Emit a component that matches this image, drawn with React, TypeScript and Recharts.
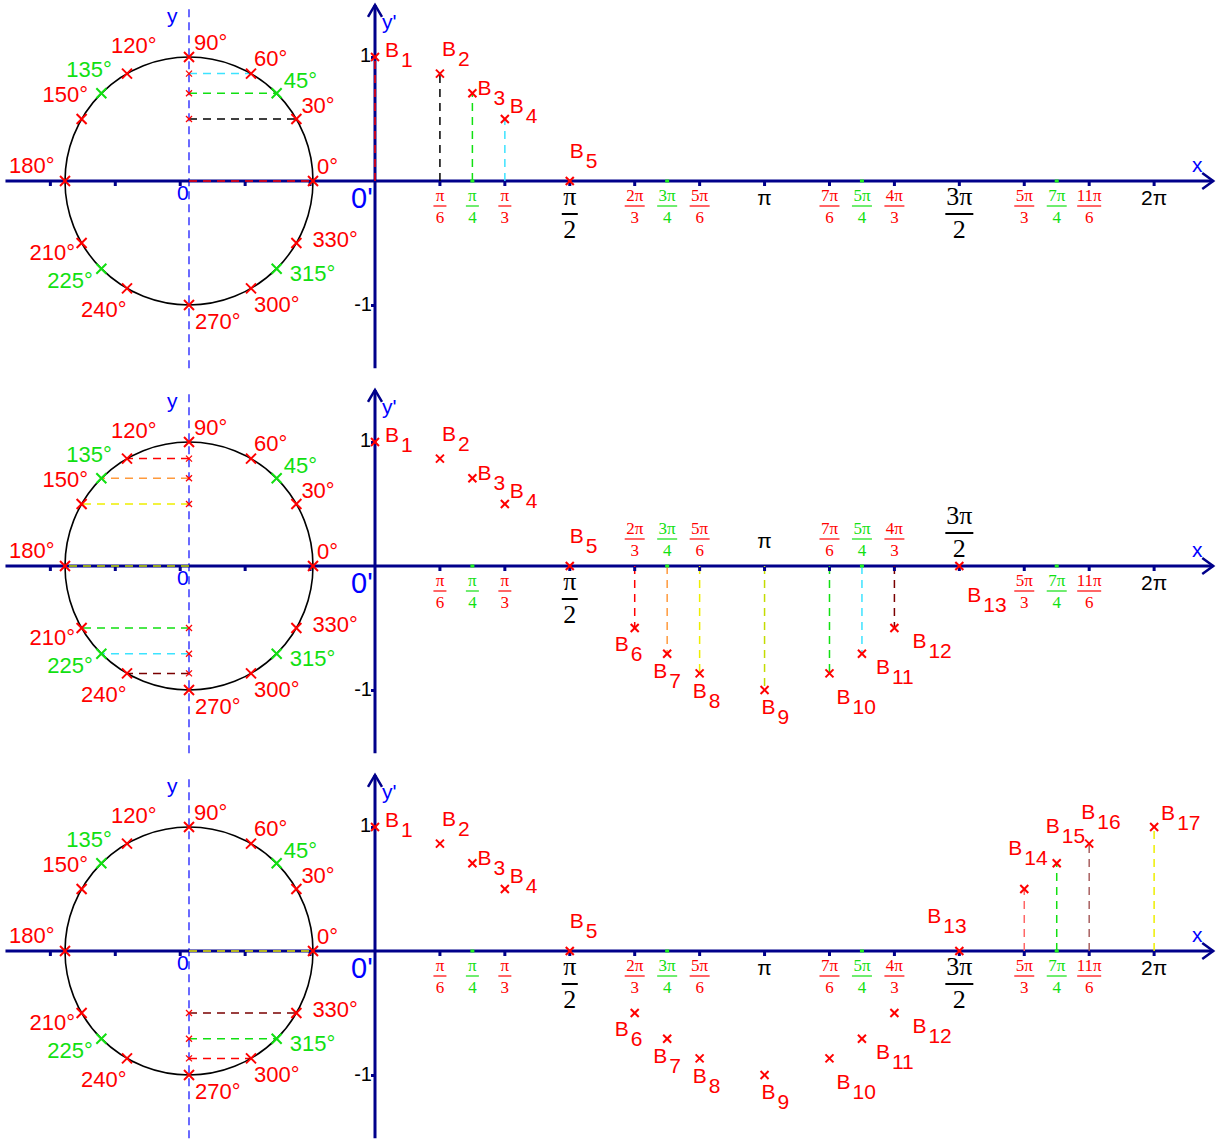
import React from 'react'
import { ComposedChart, XAxis, YAxis, Scatter, ReferenceLine, ReferenceDot } from 'recharts'

const PI = Math.PI

// unit circle marks
const DEGREES = [0, 30, 45, 60, 90, 120, 135, 150, 180, 210, 225, 240, 270, 300, 315, 330]
const CIRCLE_COS = [1, 0.866, 0.707, 0.5, 0, -0.5, -0.707, -0.866, -1, -0.866, -0.707, -0.5, 0, 0.5, 0.707, 0.866]
const CIRCLE_SIN = [0, 0.5, 0.707, 0.866, 1, 0.866, 0.707, 0.5, 0, -0.5, -0.707, -0.866, -1, -0.866, -0.707, -0.5]

// graph points B1..B17 (x in multiples of π)
const B_X = [0, 1 / 6, 1 / 4, 1 / 3, 1 / 2, 2 / 3, 3 / 4, 5 / 6, 1, 7 / 6, 5 / 4, 4 / 3, 3 / 2, 5 / 3, 7 / 4, 11 / 6, 2]
const B_Y = [1, 0.866, 0.707, 0.5, 0, -0.5, -0.707, -0.866, -1, -0.866, -0.707, -0.5, 0, 0.5, 0.707, 0.866, 1]

// x axis ticks (multiples of π)
const TICK_X = [1 / 6, 1 / 4, 1 / 3, 1 / 2, 2 / 3, 3 / 4, 5 / 6, 1, 7 / 6, 5 / 4, 4 / 3, 3 / 2, 5 / 3, 7 / 4, 11 / 6, 2]
const TICK_NUM = ['π', 'π', 'π', 'π', '2π', '3π', '5π', 'π', '7π', '5π', '4π', '3π', '5π', '7π', '11π', '2π']
const TICK_DEN = ['6', '4', '3', '2', '3', '4', '6', '', '6', '4', '3', '2', '3', '4', '6', '']
const NEG_TICK_X = [-1 / 6, -1 / 3, -1 / 2, -2 / 3, -5 / 6]

// layout
const W = 1217
const H = 385
const UNIT = 124
const X_DOMAIN = [-375 / UNIT, (W - 375) / UNIT]
const Y_DOMAIN = [-(H - 181) / UNIT, 181 / UNIT]
const CX = -1.5
const AX_LEFT = -2.98
const AX_RIGHT = 6.76
const AX_TOP = 1.42
const AX_BOTTOM = -1.51

const AXIS = '#00008b'
const BLUE = '#0000ff'
const RED = '#ff0000'
const GREEN = '#11e011'
const BLACK = '#000000'
const CYAN = '#3de3ff'
const ORANGE = '#ff9a3c'
const YELLOW = '#eeee00'
const YGREEN = '#c4dc00'
const DARKRED = '#7a0000'
const BROWN = '#a86060'
const PINK = '#ff6666'

const DEG_LABEL_POS: Record<number, [number, number]> = {
  0: [4, -7], 30: [5, -6], 45: [7, -5], 60: [3, -8], 90: [5, -7], 120: [-16, -21], 135: [-35, -16],
  150: [-39, -17], 180: [-56, -8], 210: [-52, 17], 225: [-54, 19], 240: [-46, 29], 270: [6, 24],
  300: [3, 24], 315: [13, 12], 330: [16, 4],
}
const B_LABEL_POS: Record<number, [number, number]> = {
  1: [10, 0], 2: [2, -18], 3: [5, 2], 4: [5, -6], 5: [0, -23], 6: [-20, 23], 7: [-14, 24], 8: [-7, 25],
  9: [-3, 24], 10: [7, 31], 11: [14, 20], 12: [18, 20], 13: [8, 36], 14: [-16, -34], 15: [-11, -30],
  16: [-8, -25], 17: [7, -7],
}

const PANELS = [
  { count: 5, circleDeg: [0, 30, 45, 60], circleCol: [RED, BLACK, GREEN, CYAN], bIdx: [1, 2, 3, 4], bCol: [RED, BLACK, GREEN, CYAN], above: [] as number[], b13: [8, 36] },
  { count: 13, circleDeg: [120, 135, 150, 180, 210, 225, 240], circleCol: [RED, ORANGE, YELLOW, YGREEN, GREEN, CYAN, DARKRED], bIdx: [6, 7, 8, 9, 10, 11, 12], bCol: [RED, ORANGE, YELLOW, YGREEN, GREEN, CYAN, DARKRED], above: [2 / 3, 3 / 4, 5 / 6, 1, 7 / 6, 5 / 4, 4 / 3, 3 / 2], b13: [8, 36] },
  { count: 17, circleDeg: [0, 330, 315, 300], circleCol: [YELLOW, DARKRED, GREEN, RED], bIdx: [17, 16, 15, 14], bCol: [YELLOW, BROWN, GREEN, PINK], above: [] as number[], b13: [-32, -28] },
]

function cross(cx: number, cy: number, s: number, color: string, w: number) {
  return (
    <g>
      <line x1={cx - s} y1={cy - s} x2={cx + s} y2={cy + s} stroke={color} strokeWidth={w} />
      <line x1={cx - s} y1={cy + s} x2={cx + s} y2={cy - s} stroke={color} strokeWidth={w} />
    </g>
  )
}

function fraction(cx: number, cy: number, i: number, above: boolean) {
  const num = TICK_NUM[i]
  const den = TICK_DEN[i]
  if (!den) {
    return <text x={cx} y={cy + (above ? -18 : 24)} textAnchor="middle" fontSize={21} fill={BLACK}>{num}</text>
  }
  const big = den === '2'
  const color = big ? BLACK : den === '4' ? GREEN : RED
  const barY = cy + (big ? (above ? -33 : 33) : (above ? -27 : 25))
  const bw = big ? (num.length > 1 ? 28 : 16) : num.length > 2 ? 24 : num.length > 1 ? 20 : 13
  return (
    <g fill={color} fontFamily="'Liberation Serif', 'DejaVu Serif', serif" textAnchor="middle" fontSize={big ? 26 : 17}>
      <text x={cx} y={barY - (big ? 9 : 5)}>{num}</text>
      <line x1={cx - bw / 2} x2={cx + bw / 2} y1={barY} y2={barY} stroke={color} strokeWidth={big ? 2 : 1.2} />
      <text x={cx} y={barY + (big ? 24 : 17)}>{den}</text>
    </g>
  )
}

function textDot(key: string, x: number, y: number, render: (cx: number, cy: number) => React.ReactElement) {
  return (
    <ReferenceDot key={key} x={x} y={y} r={0} ifOverflow="visible"
      shape={(p: any) => render(p.cx, p.cy)} />
  )
}

function Panel({ idx }: { idx: number }) {
  const cfg = PANELS[idx]
  const circleData = DEGREES.map((d, i) => ({ x: CX + CIRCLE_COS[i], y: CIRCLE_SIN[i], deg: d }))
  const projData = cfg.circleDeg
    .map((d) => DEGREES.indexOf(d))
    .filter((i) => CIRCLE_SIN[i] !== 0)
    .map((i) => ({ x: CX, y: CIRCLE_SIN[i] }))
  const bData = B_X.slice(0, cfg.count).map((bx, i) => ({ x: bx * PI, y: B_Y[i], n: i + 1 }))
  const tickData = TICK_X.map((t, i) => ({ x: t * PI, y: 0, i }))
  const negTickData = NEG_TICK_X.map((t) => ({ x: t * PI, y: 0 }))

  return (
    <ComposedChart width={W} height={H} margin={{ top: 0, right: 0, bottom: 0, left: 0 }}>
      <XAxis type="number" dataKey="x" domain={X_DOMAIN} hide allowDataOverflow />
      <YAxis type="number" dataKey="y" domain={Y_DOMAIN} hide allowDataOverflow />

      {/* circle and its dashed y axis */}
      <ReferenceDot x={CX} y={0} r={UNIT} fill="none" stroke={BLACK} strokeWidth={1.6} />
      <ReferenceLine segment={[{ x: CX, y: AX_BOTTOM }, { x: CX, y: AX_TOP }]} stroke="#2b2bff" strokeDasharray="8 5" strokeWidth={1.4} />

      {/* main axes */}
      <ReferenceLine segment={[{ x: AX_LEFT, y: 0 }, { x: AX_RIGHT, y: 0 }]} stroke={AXIS} strokeWidth={3} />
      <ReferenceLine segment={[{ x: 0, y: AX_BOTTOM }, { x: 0, y: AX_TOP }]} stroke={AXIS} strokeWidth={3} />
      {textDot('arrow-x', AX_RIGHT, 0, (cx, cy) => (
        <polyline points={`${cx - 11},${cy - 8} ${cx},${cy} ${cx - 11},${cy + 8}`} fill="none" stroke={AXIS} strokeWidth={2.5} />
      ))}
      {textDot('arrow-y', 0, AX_TOP, (cx, cy) => (
        <polyline points={`${cx - 7},${cy + 12} ${cx},${cy} ${cx + 7},${cy + 12}`} fill="none" stroke={AXIS} strokeWidth={2.5} />
      ))}

      {/* dashed projections on the circle */}
      {cfg.circleDeg.map((d, k) => {
        const i = DEGREES.indexOf(d)
        return (
          <ReferenceLine key={`cd${k}`} segment={[{ x: CX, y: CIRCLE_SIN[i] }, { x: CX + CIRCLE_COS[i], y: CIRCLE_SIN[i] }]}
            stroke={cfg.circleCol[k]} strokeDasharray="8 6" strokeWidth={1.5} />
        )
      })}
      {/* dashed verticals on the graph */}
      {cfg.bIdx.map((n, k) => (
        <ReferenceLine key={`bd${k}`} segment={[{ x: B_X[n - 1] * PI, y: 0 }, { x: B_X[n - 1] * PI, y: B_Y[n - 1] }]}
          stroke={cfg.bCol[k]} strokeDasharray="8 6" strokeWidth={1.5} />
      ))}

      {/* x ticks and labels */}
      <Scatter data={negTickData} isAnimationActive={false}
        shape={(p: any) => <rect x={p.cx - 1.5} y={p.cy + 1} width={3} height={4} fill={AXIS} />} />
      <Scatter data={tickData} isAnimationActive={false}
        shape={(p: any) => {
          const i = p.payload.i
          const green = TICK_DEN[i] === '4'
          const above = cfg.above.includes(TICK_X[i])
          return (
            <g>
              {green
                ? <rect x={p.cx - 2} y={p.cy - 1.5} width={4} height={3} fill="#22ee22" />
                : <rect x={p.cx - 1.5} y={p.cy + 1} width={3} height={4} fill={AXIS} />}
              {fraction(p.cx, p.cy, i, above)}
            </g>
          )
        }} />

      {/* y' ticks */}
      {textDot('t1', 0, 1, (cx, cy) => (
        <g>
          <rect x={cx - 4} y={cy - 1} width={3} height={3} fill={AXIS} />
          <text x={cx - 4} y={cy + 5} textAnchor="end" fontSize={20} fill={BLACK}>1</text>
        </g>
      ))}
      {textDot('tm1', 0, -1, (cx, cy) => (
        <g>
          <rect x={cx - 4} y={cy - 1} width={3} height={3} fill={AXIS} />
          <text x={cx - 3} y={cy + 6} textAnchor="end" fontSize={20} fill={BLACK}>-1</text>
        </g>
      ))}

      {/* axis names */}
      {textDot('ly', CX, 1, (cx, cy) => <text x={cx - 22} y={cy - 34} fontSize={21} fill={BLUE}>y</text>)}
      {textDot('lo', CX, 0, (cx, cy) => <text x={cx - 12} y={cy + 19} fontSize={21} fill={BLUE}>0</text>)}
      {textDot('lo2', 0, 0, (cx, cy) => <text x={cx - 24} y={cy + 27} fontSize={29} fill={BLUE}>0'</text>)}
      {textDot('ly2', 0, 1, (cx, cy) => <text x={cx + 7} y={cy - 28} fontSize={21} fill={BLUE}>y'</text>)}
      {textDot('lx', 2 * PI, 0, (cx, cy) => <text x={cx + 38} y={cy - 9} fontSize={21} fill={BLUE}>x</text>)}

      {/* small crosses on the circle's y axis */}
      <Scatter data={projData} isAnimationActive={false}
        shape={(p: any) => cross(p.cx, p.cy, 3, RED, 1.3)} />

      {/* points on the circle */}
      <Scatter data={circleData} isAnimationActive={false}
        shape={(p: any) => {
          const d = p.payload.deg
          const col = d % 90 === 45 ? GREEN : RED
          const o = DEG_LABEL_POS[d]
          return (
            <g>
              {cross(p.cx, p.cy, 5, col, 2)}
              <text x={p.cx + o[0]} y={p.cy + o[1]} fontSize={22} fill={col}>{d}°</text>
            </g>
          )
        }} />

      {/* graph points */}
      <Scatter data={bData} isAnimationActive={false}
        shape={(p: any) => {
          const n = p.payload.n
          const o = n === 13 ? cfg.b13 : B_LABEL_POS[n]
          return (
            <g>
              {cross(p.cx, p.cy, 4, RED, 2)}
              <text x={p.cx + o[0]} y={p.cy + o[1]} fontSize={21} fill={RED}>
                B<tspan dx={2} dy={10}>{n}</tspan>
              </text>
            </g>
          )
        }} />
    </ComposedChart>
  )
}

export default function App() {
  return (
    <div style={{ position: 'absolute', left: 0, top: 0, width: W, height: 1140, overflow: 'hidden', background: '#fff', fontFamily: "'Liberation Sans', Arial, sans-serif" }}>
      {PANELS.map((_, i) => (
        <div key={i} style={{ position: 'absolute', left: 0, top: i * H }}>
          <Panel idx={i} />
        </div>
      ))}
    </div>
  )
}
